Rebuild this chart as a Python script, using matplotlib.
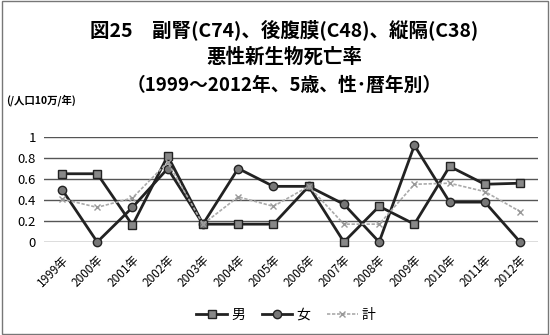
import numpy as np
import matplotlib.pyplot as plt

plt.rcParams['font.family'] = ['Noto Sans CJK JP', 'DejaVu Sans']

years = ['1999年', '2000年', '2001年', '2002年', '2003年', '2004年', '2005年',
         '2006年', '2007年', '2008年', '2009年', '2010年', '2011年', '2012年']
male = [0.65, 0.65, 0.16, 0.82, 0.17, 0.17, 0.17, 0.53, 0.0, 0.34, 0.17, 0.72, 0.55, 0.56]
female = [0.50, 0.0, 0.33, 0.70, 0.17, 0.70, 0.53, 0.53, 0.36, 0.0, 0.92, 0.38, 0.38, 0.0]
total = [0.41, 0.33, 0.42, 0.76, 0.17, 0.43, 0.34, 0.53, 0.17, 0.17, 0.55, 0.56, 0.48, 0.29]

fig = plt.figure(figsize=(5.5, 3.35), dpi=100)
# thin frame round the whole chart
fig.patches.append(plt.Rectangle((0.003, 0.003), 0.994, 0.994, transform=fig.transFigure,
                                 fill=False, edgecolor='#777777', lw=1))

ax = fig.add_axes([0.0807, 0.2776, 0.897, 0.3134])
x = np.arange(len(years))

ax.plot(x, male, color='#222222', lw=2, marker='s', ms=6, mfc='#888888', mec='#222222',
        mew=1, label='男', clip_on=False, zorder=3)
ax.plot(x, female, color='#222222', lw=2, marker='o', ms=6, mfc='#777777', mec='#222222',
        mew=1, label='女', clip_on=False, zorder=4)
ax.plot(x, total, color='#aaaaaa', lw=1.2, ls=(0, (2, 1)), marker='x', ms=5, mec='#999999',
        label='計', clip_on=False, zorder=5)

ax.set_xlim(-0.5, len(years) - 0.5)
ax.set_ylim(0, 1)
ax.set_yticks([0, 0.2, 0.4, 0.6, 0.8, 1])
ax.set_yticklabels(['0', '0.2', '0.4', '0.6', '0.8', '1'], fontsize=9.5)
ax.set_xticks(x)
ax.set_xticklabels(years, rotation=45, ha='right', rotation_mode='anchor', fontsize=8.5)
ax.tick_params(length=0, pad=6)
ax.tick_params(axis='x', pad=8)
ax.grid(axis='y', color='#555555', lw=1)
ax.set_axisbelow(True)
for s in ax.spines.values():
    s.set_visible(False)

fig.text(0.517, 0.91, '図25　副腎(C74)、後腹膜(C48)、縦隔(C38)', ha='center', va='center',
         fontsize=14, fontweight='bold')
fig.text(0.517, 0.83, '悪性新生物死亡率', ha='center', va='center',
         fontsize=14, fontweight='bold')
fig.text(0.517, 0.746, '（1999～2012年、5歳、性･暦年別）', ha='center', va='center',
         fontsize=13.5, fontweight='bold')
fig.text(0.012, 0.70, '(/人口10万/年)', ha='left', va='center', fontsize=7.5, fontweight='bold')

fig.legend(loc='center', bbox_to_anchor=(0.52, 0.06), ncol=3, frameon=False,
           fontsize=10, handlelength=2.2, columnspacing=1.2, handletextpad=0.3)

fig.savefig('out.png', dpi=100)
